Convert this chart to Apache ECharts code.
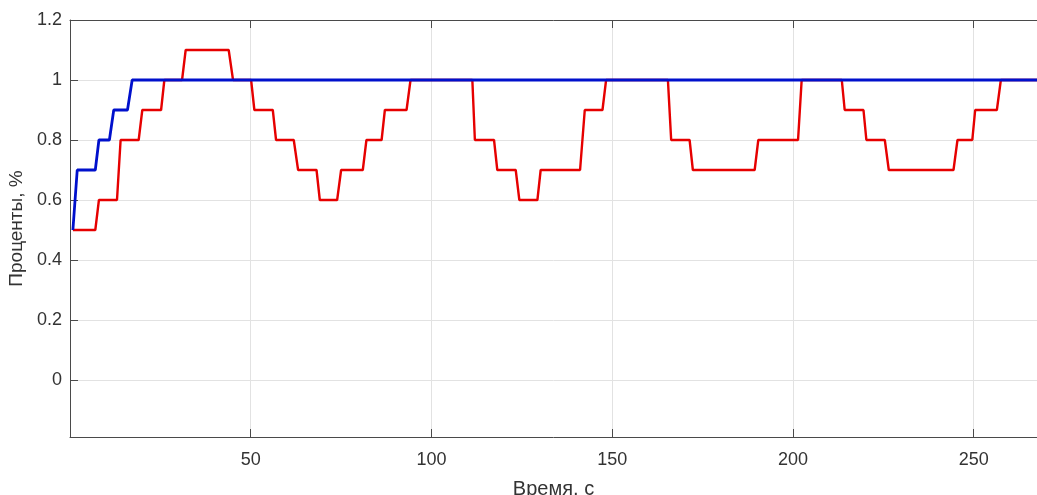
<!DOCTYPE html>
<html>
<head>
<meta charset="utf-8">
<script src="https://cdn.jsdelivr.net/npm/echarts@6/dist/echarts.min.js"></script>
<style>
  html, body { margin: 0; padding: 0; background: #ffffff; }
  #chart { width: 1037px; height: 495px; }
</style>
</head>
<body>
<div id="chart"></div>
<script>
// ---- data ----
const xTicks = [50, 100, 150, 200, 250];
const yTicks = [0, 0.2, 0.4, 0.6, 0.8, 1, 1.2];

const blueT = [0.8, 2.0, 7.0, 8.0, 10.9, 12.1, 15.9, 17.2, 267.5];
const blueV = [0.5, 0.7, 0.7, 0.8, 0.8, 0.9, 0.9, 1.0, 1.0];

const redT = [0.8, 7.0, 8.0, 13.0, 14.0, 19.0, 20.0, 25.2, 26.1, 31.0, 32.0, 43.9, 45.1,
  50.1, 51.0, 56.1, 57.0, 61.9, 63.1, 68.2, 69.1, 73.9, 75.0, 81.0, 82.0, 86.2, 87.1, 93.1, 94.2,
  111.3, 112.0, 117.3, 118.2, 123.3, 124.3, 129.3, 130.2, 141.1, 142.4, 147.3, 148.3,
  165.4, 166.3, 171.4, 172.3, 189.4, 190.4, 201.4, 202.4,
  213.5, 214.3, 219.5, 220.3, 225.4, 226.5, 244.4, 245.5, 249.6, 250.4, 256.4, 257.5, 267.5];
const redV = [0.5, 0.5, 0.6, 0.6, 0.8, 0.8, 0.9, 0.9, 1.0, 1.0, 1.1, 1.1, 1.0,
  1.0, 0.9, 0.9, 0.8, 0.8, 0.7, 0.7, 0.6, 0.6, 0.7, 0.7, 0.8, 0.8, 0.9, 0.9, 1.0,
  1.0, 0.8, 0.8, 0.7, 0.7, 0.6, 0.6, 0.7, 0.7, 0.9, 0.9, 1.0,
  1.0, 0.8, 0.8, 0.7, 0.7, 0.8, 0.8, 1.0,
  1.0, 0.9, 0.9, 0.8, 0.8, 0.7, 0.7, 0.8, 0.8, 0.9, 0.9, 1.0, 1.0];

const xMin = 0, xMax = 267.5, yMin = -0.19, yMax = 1.2;
const xName = 'Время, с';
const yName = 'Проценты, %';

const pairs = (t, v) => t.map((x, i) => [x, v[i]]);
const FONT = '"Liberation Sans", Arial, sans-serif';
const AX = '#4a4a4a';

const chart = echarts.init(document.getElementById('chart'), null, { renderer: 'canvas' });
chart.setOption({
  animation: false,
  backgroundColor: '#ffffff',
  grid: { left: 70, right: 0, top: 20, bottom: 58, containLabel: false, outerBoundsMode: 'none' },
  xAxis: [{
    type: 'value', position: 'bottom', min: xMin, max: xMax,
    name: xName, nameLocation: 'middle', nameGap: 42,
    nameTextStyle: { fontFamily: FONT, fontSize: 20, color: '#333' },
    axisLine: { show: true, onZero: false, lineStyle: { color: AX, width: 1 } },
    axisTick: { show: true, inside: true, length: 8, customValues: xTicks, lineStyle: { color: AX } },
    axisLabel: { show: true, customValues: xTicks, margin: 14, fontFamily: FONT, fontSize: 18, color: '#333' },
    splitLine: { show: true, lineStyle: { color: '#e2e2e2', width: 1 } }
  }, {
    type: 'value', position: 'top', min: xMin, max: xMax,
    axisLine: { show: true, onZero: false, lineStyle: { color: AX, width: 1 } },
    axisTick: { show: true, inside: true, length: 8, customValues: xTicks, lineStyle: { color: AX } },
    axisLabel: { show: false },
    splitLine: { show: false }
  }],
  yAxis: {
    type: 'value', min: yMin, max: yMax,
    name: yName, nameLocation: 'middle', nameGap: 40,
    nameTextStyle: { fontFamily: FONT, fontSize: 19, color: '#333' },
    axisLine: { show: true, onZero: false, lineStyle: { color: AX, width: 1 } },
    axisTick: { show: true, inside: true, length: 8, customValues: yTicks, lineStyle: { color: AX } },
    axisLabel: { show: true, customValues: yTicks, margin: 8, fontFamily: FONT, fontSize: 18, color: '#333',
      formatter: v => String(Math.round(v * 10) / 10) },
    splitLine: { show: true, lineStyle: { color: '#e2e2e2', width: 1 } }
  },
  series: [{
    type: 'line', name: 'red', data: pairs(redT, redV), xAxisIndex: 0,
    showSymbol: false, symbol: 'none', lineStyle: { color: '#e60000', width: 2.4 }, z: 2
  }, {
    type: 'line', name: 'blue', data: pairs(blueT, blueV), xAxisIndex: 0,
    showSymbol: false, symbol: 'none', lineStyle: { color: '#0010cc', width: 2.8 }, z: 3
  }]
});
</script>
</body>
</html>
